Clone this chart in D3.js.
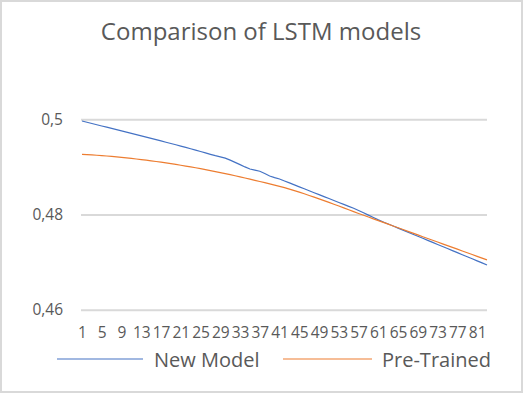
<!DOCTYPE html>
<meta charset="utf-8">
<script src="https://d3js.org/d3.v7.min.js"></script>
<style>
  body { margin: 0; background: #fff; }
  text { font-family: "Open Sans", sans-serif; fill: #595959; }
</style>
<div id="chart"></div>
<script>
  // data
  var title = "Comparison of LSTM models";
  var epochs = d3.range(1, 84);
  var xTicks = [1, 5, 9, 13, 17, 21, 25, 29, 33, 37, 41, 45, 49, 53, 57, 61, 65, 69, 73, 77, 81];
  var yTicks = [0.46, 0.48, 0.5];
  var seriesNames = ["New Model", "Pre-Trained"];
  var newModel = [
    0.49964, 0.49938, 0.49912, 0.49886, 0.49860, 0.49834, 0.49808, 0.49782, 0.49756, 0.49730,
    0.49704, 0.49678, 0.49652, 0.49626, 0.49600, 0.49573, 0.49546, 0.49519, 0.49492, 0.49465,
    0.49438, 0.49410, 0.49381, 0.49352, 0.49323, 0.49294, 0.49265, 0.49236, 0.49212, 0.49184,
    0.49142, 0.49096, 0.49048, 0.49000, 0.48956, 0.48932, 0.48910, 0.48862, 0.48810, 0.48776,
    0.48746, 0.48705, 0.48664, 0.48623, 0.48582, 0.48541, 0.48500, 0.48459, 0.48418, 0.48377,
    0.48336, 0.48295, 0.48254, 0.48213, 0.48172, 0.48131, 0.48084, 0.48037, 0.47988, 0.47938,
    0.47888, 0.47845, 0.47802, 0.47759, 0.47716, 0.47673, 0.47630, 0.47587, 0.47544, 0.47501,
    0.47458, 0.47415, 0.47372, 0.47329, 0.47286, 0.47243, 0.47200, 0.47157, 0.47114, 0.47071,
    0.47028, 0.46985, 0.46942
  ];
  var preTrained = [
    0.49265, 0.49259, 0.49252, 0.49245, 0.49237, 0.49229, 0.49220, 0.49210, 0.49200, 0.49189,
    0.49178, 0.49166, 0.49154, 0.49141, 0.49128, 0.49114, 0.49099, 0.49084, 0.49068, 0.49052,
    0.49035, 0.49018, 0.49000, 0.48982, 0.48963, 0.48943, 0.48923, 0.48902, 0.48881, 0.48859,
    0.48837, 0.48814, 0.48791, 0.48767, 0.48743, 0.48719, 0.48694, 0.48669, 0.48644, 0.48618,
    0.48592, 0.48566, 0.48535, 0.48503, 0.48470, 0.48436, 0.48401, 0.48365, 0.48329, 0.48292,
    0.48255, 0.48217, 0.48179, 0.48140, 0.48101, 0.48061, 0.48023, 0.47985, 0.47948, 0.47910,
    0.47873, 0.47835, 0.47798, 0.47760, 0.47723, 0.47685, 0.47648, 0.47610, 0.47573, 0.47535,
    0.47498, 0.47460, 0.47423, 0.47385, 0.47348, 0.47310, 0.47273, 0.47235, 0.47198, 0.47160,
    0.47123, 0.47085, 0.47048
  ];
  var colors = ["#4472c4", "#ed7d31"];

  var width = 523, height = 393;
  var plotLeft = 82, plotRight = 487, plotTop = 119.3, plotBottom = 309.8;

  var svg = d3.select("#chart").append("svg")
    .attr("width", width)
    .attr("height", height);

  // chart border
  svg.append("rect")
    .attr("x", 1).attr("y", 1)
    .attr("width", width - 2).attr("height", height - 2)
    .attr("fill", "#fff")
    .attr("stroke", "#d9d9d9")
    .attr("stroke-width", 2);

  var x = d3.scalePoint().domain(epochs).range([plotLeft, plotRight]);
  var y = d3.scaleLinear().domain([0.46, 0.5]).range([plotBottom, plotTop]);

  var comma = d3.formatLocale({ decimal: ",", thousands: ".", grouping: [3], currency: ["", ""] });

  // y gridlines + labels
  var yAxis = svg.append("g")
    .attr("transform", "translate(" + plotRight + ",0)")
    .call(d3.axisLeft(y).tickValues(yTicks).tickSize(plotRight - plotLeft + 1).tickPadding(18)
      .tickFormat(comma.format(".2~f")));
  yAxis.select(".domain").remove();
  yAxis.selectAll(".tick line").attr("stroke", "#d9d9d9").attr("stroke-width", 2);
  yAxis.selectAll(".tick text")
    .style("font-size", "15.5px")
    .attr("fill", "#595959");

  // x labels
  var xAxis = svg.append("g")
    .attr("transform", "translate(0," + plotBottom + ")")
    .call(d3.axisBottom(x).tickValues(xTicks).tickSize(0).tickPadding(17));
  xAxis.select(".domain").remove();
  xAxis.selectAll(".tick text")
    .style("font-size", "15.5px")
    .attr("fill", "#595959");

  var line = d3.line()
    .x(function (d, i) { return x(epochs[i]); })
    .y(function (d) { return y(d); });

  [newModel, preTrained].forEach(function (s, k) {
    svg.append("path")
      .datum(s)
      .attr("d", line)
      .attr("fill", "none")
      .attr("stroke", colors[k])
      .attr("stroke-width", 1.2);
  });

  // title
  svg.append("text")
    .attr("x", 261)
    .attr("y", 39.5)
    .attr("text-anchor", "middle")
    .style("font-size", "24px")
    .text(title);

  // legend
  var legendItems = [
    { x1: 57, x2: 143, tx: 154 },
    { x1: 283, x2: 372, tx: 382 }
  ];
  legendItems.forEach(function (d, k) {
    svg.append("line")
      .attr("x1", d.x1).attr("x2", d.x2)
      .attr("y1", 359).attr("y2", 359)
      .attr("stroke", colors[k])
      .attr("stroke-width", 1.2);
    svg.append("text")
      .attr("x", d.tx)
      .attr("y", 366.5)
      .style("font-size", "20px")
      .text(seriesNames[k]);
  });
</script>
